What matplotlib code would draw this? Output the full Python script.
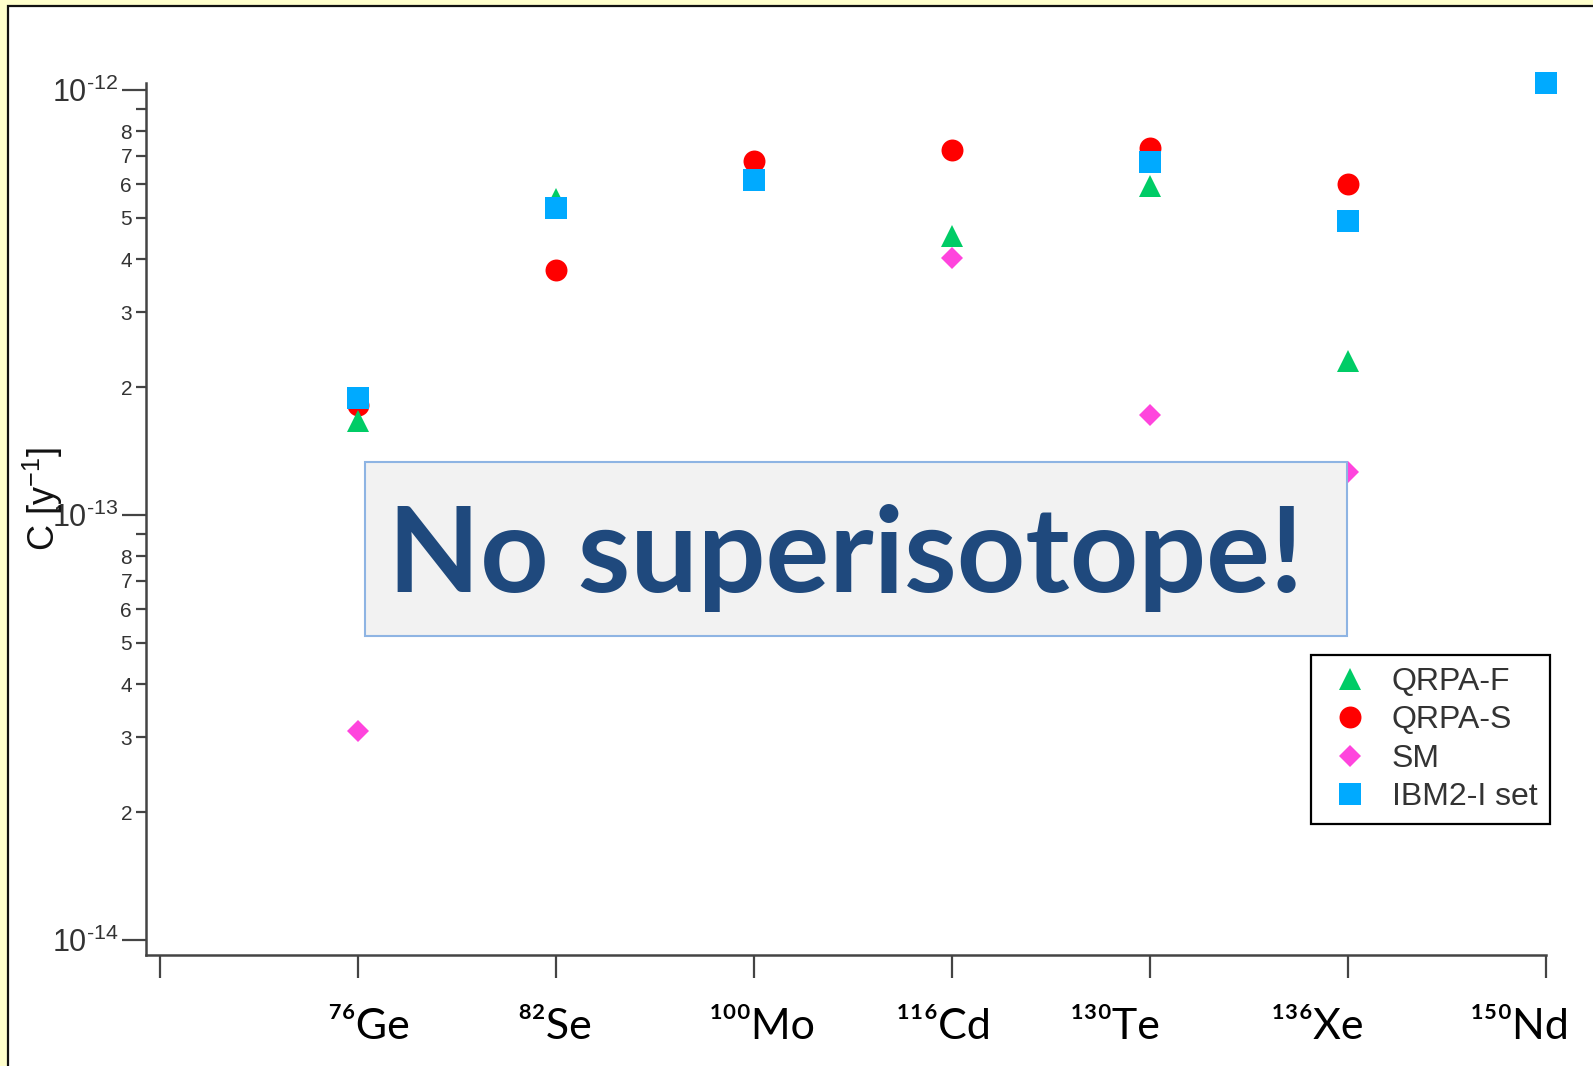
import matplotlib
matplotlib.use("Agg")
import matplotlib.pyplot as plt
from matplotlib.patches import Rectangle
from matplotlib.ticker import LogLocator, FuncFormatter, NullFormatter
from matplotlib.transforms import ScaledTranslation
import numpy as np


W, H = 1593, 1066

isotope_mass = [76, 82, 100, 116, 130, 136, 150]
isotope_name = ["Ge", "Se", "Mo", "Cd", "Te", "Xe", "Nd"]

# C [1/y] per isotope, nan where the model gives nothing
qrpa_f = [1.66e-13, 5.54e-13, np.nan, 4.53e-13, 5.94e-13, 2.30e-13, np.nan]
qrpa_s = [1.81e-13, 3.77e-13, 6.79e-13, 7.22e-13, 7.31e-13, 6.01e-13, np.nan]
sm = [3.11e-14, np.nan, np.nan, 4.03e-13, 1.72e-13, 1.26e-13, np.nan]
ibm2 = [1.88e-13, 5.29e-13, 6.14e-13, np.nan, 6.77e-13, 4.91e-13, 1.038e-12]

SUP = str.maketrans("0123456789", "⁰¹²³⁴⁵⁶⁷⁸⁹")

plt.rcParams['mathtext.fontset'] = 'custom'
plt.rcParams['mathtext.rm'] = 'Liberation Sans'
plt.rcParams['mathtext.it'] = 'Liberation Sans:italic'
plt.rcParams['mathtext.bf'] = 'Liberation Sans:bold'
plt.rcParams['mathtext.sf'] = 'Liberation Sans'
plt.rcParams['font.family'] = ['Liberation Sans', 'DejaVu Sans']


def fx(px):
    return px / W


def fy(py):
    return 1 - py / H


fig = plt.figure(figsize=(W / 100, H / 100), dpi=100, facecolor='#FFFFCC')

# slide frame
fig.patches.append(Rectangle((fx(8), -0.05), 1.1, fy(6) + 0.05,
                             transform=fig.transFigure, facecolor='white',
                             edgecolor='#111111', linewidth=1.6, zorder=-5))

ax = fig.add_axes([fx(146), fy(955), fx(1545.7) - fx(146), fy(83) - fy(955)])
ax.patch.set_alpha(0)

x = np.arange(1, len(isotope_mass) + 1)

series = [
    ("QRPA-F", qrpa_f, '^', '#00CC66', 15.8, 3),
    ("QRPA-S", qrpa_s, 'o', '#FF0000', 15.8, 2),
    ("SM", sm, 'D', '#FF44DD', 11.2, 4),
    ("IBM2-I set", ibm2, 's', '#00AAFF', 15.8, 5),
]

handles = []
for label, vals, mk, col, ms, z in series:
    h, = ax.plot(x, vals, linestyle='none', marker=mk, color=col,
                 markersize=ms, markeredgewidth=0, zorder=z,
                 clip_on=False, label=label)
    handles.append(h)

ax.set_yscale('log')
ax.set_ylim(10 ** (-14 - 15 / 425), 10 ** (-12 + 7 / 425))
ax.set_xlim(-0.073, 7.0)

for s in ['top', 'right']:
    ax.spines[s].set_visible(False)
for s in ['left', 'bottom']:
    ax.spines[s].set_color('#444444')
    ax.spines[s].set_linewidth(1.8)

ax.yaxis.set_major_locator(LogLocator(base=10, numticks=10))
ax.yaxis.set_minor_locator(LogLocator(base=10, subs=np.arange(2, 10), numticks=20))


def major_fmt(v, pos):
    return r'$10^{\text{-}%d}$' % abs(int(round(np.log10(v))))


def minor_fmt(v, pos):
    m = int(round(v / 10 ** np.floor(np.log10(v) + 1e-9)))
    return '' if m == 9 else str(m)


ax.yaxis.set_major_formatter(FuncFormatter(major_fmt))
ax.yaxis.set_minor_formatter(FuncFormatter(minor_fmt))
ax.tick_params(axis='y', which='major', length=17, width=1.6, color='#444444',
               labelsize=22, labelcolor='#333333', pad=3)
ax.tick_params(axis='y', which='minor', length=7, width=1.6, color='#444444',
               labelsize=15, labelcolor='#333333', pad=3)

ax.set_xticks(np.arange(0, len(isotope_mass) + 1))
labels = [''] + [str(m).translate(SUP) + n for m, n in zip(isotope_mass, isotope_name)]
ax.set_xticklabels(labels, fontsize=31, family=['Lato', 'DejaVu Sans'])
ax.tick_params(axis='x', length=16.5, width=1.6, color='#444444', pad=22)
ax.xaxis.set_minor_formatter(NullFormatter())

# the slide labels sit a little off their ticks
shifts = [0, 7, -1, 6, -6, -25, -22, -19]
for tl, dx in zip(ax.get_xticklabels(), shifts):
    tl.set_transform(tl.get_transform() + ScaledTranslation(dx / 72, 0, fig.dpi_scale_trans))

fig.text(fx(43), fy(499), 'C [y$^{-1}$]', rotation=90, ha='center', va='center',
         fontsize=26, color='#111111')

leg = ax.legend(handles, [h.get_label() for h in handles], loc='upper left',
                bbox_to_anchor=(fx(1311), fy(655)), bbox_transform=fig.transFigure,
                borderaxespad=0, frameon=True, fancybox=False, framealpha=1,
                edgecolor='black', fontsize=23, labelcolor='#333333',
                handlelength=1.68, handletextpad=0.47, borderpad=0.38,
                labelspacing=0.26, numpoints=1)
leg.get_frame().set_linewidth(1.6)

# overlay box
fig.patches.append(Rectangle((fx(365), fy(636)), fx(1347) - fx(365), fy(462) - fy(636),
                             transform=fig.transFigure, facecolor='#F2F2F2',
                             edgecolor='#8EB4E3', linewidth=1.5, zorder=6))
fig.text(fx(388), fy(592), 'No superisotope!', ha='left', va='baseline',
         fontsize=86, fontweight='bold', family='Lato', color='#1F497D', zorder=7)

fig.savefig('out.png', dpi=100, facecolor=fig.get_facecolor())
